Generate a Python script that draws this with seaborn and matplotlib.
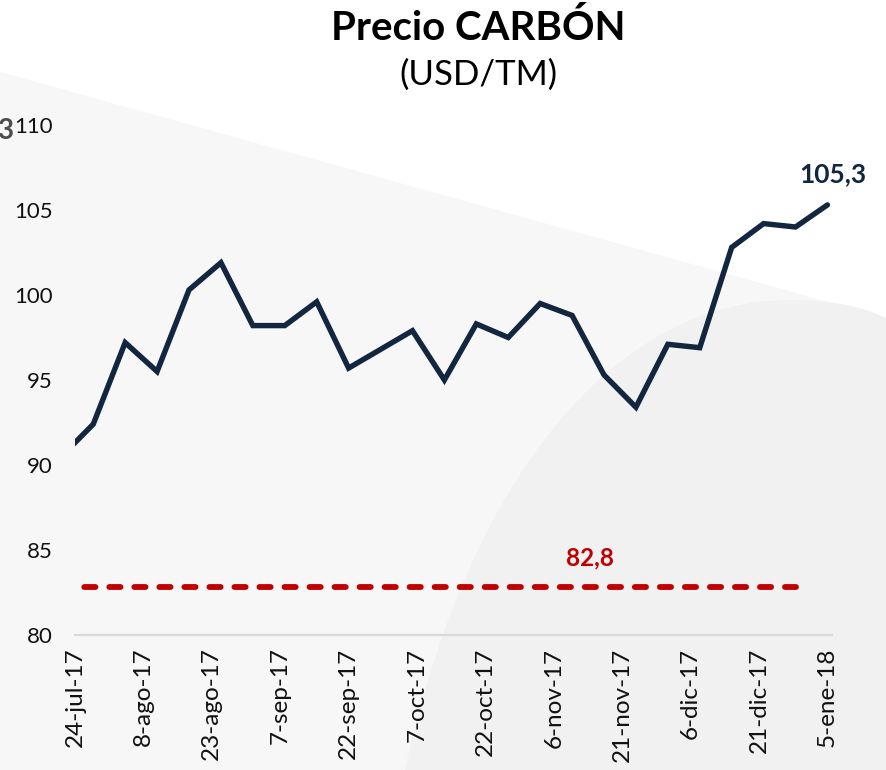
# Precio CARBON (USD/TM) - serie semanal jul-17 a ene-18
import pandas as pd
import numpy as np
import matplotlib
matplotlib.use("Agg")
import matplotlib.pyplot as plt
import seaborn as sns
from matplotlib.patches import Polygon, PathPatch
from matplotlib.path import Path

# -----------------------------
# DATOS
# -----------------------------
fechas = ['2017-07-21', '2017-07-28', '2017-08-04', '2017-08-11', '2017-08-18',
          '2017-08-25', '2017-09-01', '2017-09-08', '2017-09-15', '2017-09-22',
          '2017-09-29', '2017-10-06', '2017-10-13', '2017-10-20', '2017-10-27',
          '2017-11-03', '2017-11-10', '2017-11-17', '2017-11-24', '2017-12-01',
          '2017-12-08', '2017-12-15', '2017-12-22', '2017-12-29', '2018-01-05']
precios = [90.5, 92.4, 97.2, 95.5, 100.3,
           101.9, 98.2, 98.2, 99.6, 95.7,
           96.8, 97.9, 95.0, 98.3, 97.5,
           99.5, 98.8, 95.3, 93.4, 97.1,
           96.9, 102.8, 104.2, 104.0, 105.3]

promedio = 82.8
promedio_fechas = ['2017-07-21', '2017-12-29']

ticks_fechas = ['2017-07-24', '2017-08-08', '2017-08-23', '2017-09-07', '2017-09-22',
                '2017-10-07', '2017-10-22', '2017-11-06', '2017-11-21', '2017-12-06',
                '2017-12-21', '2018-01-05']
ticks_labels = ['24-jul-17', '8-ago-17', '23-ago-17', '7-sep-17', '22-sep-17',
                '7-oct-17', '22-oct-17', '6-nov-17', '21-nov-17', '6-dic-17',
                '21-dic-17', '5-ene-18']
y_ticks = [80, 85, 90, 95, 100, 105, 110]

df = pd.DataFrame({'fecha': pd.to_datetime(fechas), 'precio': precios})
df_prom = pd.DataFrame({'fecha': pd.to_datetime(promedio_fechas),
                        'precio': [promedio] * len(promedio_fechas)})

# -----------------------------
# ESTILO
# -----------------------------
sns.set_style("white")
plt.rcParams['font.family'] = ['Lato', 'DejaVu Sans']

NAVY = '#12263f'
RED = '#c00000'
W, H = 886, 770


def px(x, y):
    return (x / W, 1 - y / H)


fig = plt.figure(figsize=(W / 100, H / 100), dpi=100)
fig.patch.set_facecolor('white')

# fondo decorativo
fondo = Polygon([px(0, 72), px(886, 318), px(886, 770), px(0, 770)], closed=True,
                transform=fig.transFigure, facecolor='#f7f7f7', edgecolor='none', zorder=-3)
fig.add_artist(fondo)
curva = Path([px(405, 770), px(470, 470), px(620, 300), px(790, 300),
              px(850, 300), px(886, 318), px(886, 770), px(405, 770)],
             [Path.MOVETO, Path.CURVE4, Path.CURVE4, Path.CURVE4,
              Path.CURVE3, Path.CURVE3, Path.LINETO, Path.CLOSEPOLY])
fig.add_artist(PathPatch(curva, transform=fig.transFigure, facecolor='#f1f1f1',
                         edgecolor='none', zorder=-2))

ax = fig.add_axes([75 / W, 1 - 635 / H, 757 / W, 510 / H])
ax.set_facecolor('none')

# -----------------------------
# GRAFICO
# -----------------------------
sns.lineplot(data=df, x='fecha', y='precio', ax=ax, color=NAVY, linewidth=3.9)
ax.lines[-1].set_solid_joinstyle('miter')
ax.lines[-1].set_solid_capstyle('round')

sns.lineplot(data=df_prom, x='fecha', y='precio', ax=ax, color=RED, linewidth=4.2)
ax.lines[-1].set_linestyle((0.3, (1.92, 2.37)))
ax.lines[-1].set_dash_capstyle('round')

ax.set_xlim(pd.Timestamp('2017-07-24'), pd.Timestamp('2018-01-06'))
ax.set_ylim(80, 110)
ax.set_yticks(y_ticks)
ax.set_yticklabels([str(v) for v in y_ticks], fontsize=16, color='#111111')
ax.set_xticks(pd.to_datetime(ticks_fechas))
ax.set_xticklabels(ticks_labels, rotation=90, fontsize=17.5, color='#111111')
ax.tick_params(axis='y', length=0, pad=16)
ax.tick_params(axis='x', length=0, pad=9)
ax.set_xlabel('')
ax.set_ylabel('')

for s in ['top', 'right', 'left']:
    ax.spines[s].set_visible(False)
ax.spines['bottom'].set_color('#d9d9d9')
ax.spines['bottom'].set_linewidth(1.6)

# etiquetas de valores
ax.annotate(f'{precios[-1]:.1f}'.replace('.', ','), xy=(df['fecha'].iloc[-1], precios[-1]),
            xytext=(5, 31), textcoords='offset pixels', ha='center', va='center',
            fontsize=19, fontweight='bold', color=NAVY)
ax.annotate(f'{promedio:.1f}'.replace('.', ','), xy=(pd.Timestamp('2017-11-14'), promedio),
            xytext=(0, 29), textcoords='offset pixels', ha='center', va='center',
            fontsize=17.5, fontweight='bold', color=RED)

# titulo
fig.text(478 / W, 1 - 28 / H, 'Precio CARBÓN', ha='center', va='center',
         fontsize=29, fontweight='bold', color='black')
fig.text(478 / W, 1 - 75 / H, '(USD/TM)', ha='center', va='center',
         fontsize=25, color='black')

# fragmento del grafico vecino
fig.text(13 / W, 1 - 131 / H, '3', ha='right', va='center',
         fontsize=20, fontweight='bold', color='#4d4d4d')

fig.savefig('out.png', dpi=100)
